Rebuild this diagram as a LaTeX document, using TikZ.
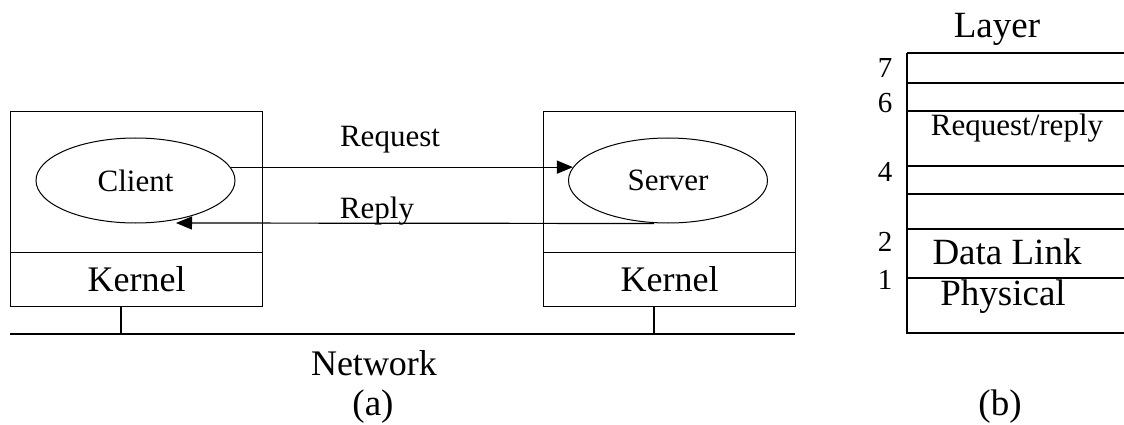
\documentclass[tikz,border=0pt]{standalone}
\usepackage{fontspec}
\setmainfont{Liberation Serif}
\usetikzlibrary{shapes.geometric,arrows.meta}
\newcommand{\fs}[1]{\fontsize{#1}{#1}\selectfont}
\begin{document}
\begin{tikzpicture}[x=1pt,y=-1pt,
  line/.style={line width=1.2pt},
  proc/.style={ellipse,draw,line width=1pt,minimum width=199pt,minimum height=85pt,inner sep=0pt,font=\fs{31}},
  box/.style={draw,line width=1.2pt,minimum width=252pt,inner sep=0pt,anchor=north west},
  lbl/.style={inner sep=0pt},
  tip/.style={-{Triangle[length=16pt,width=13pt]}}]
\useasboundingbox (0,0) rectangle (1124,425);
% (a)
\node[box,minimum height=141pt] (lbox) at (10,111) {};
\node[box,minimum height=54pt,font=\fs{36}] (lkern) at (10,252) {Kernel};
\node[box,minimum height=141pt] (rbox) at (543,111) {};
\node[box,minimum height=54pt,font=\fs{36}] (rkern) at (543,252) {Kernel};
\node[proc] (client) at (135.5,180.5) {Client};
\node[proc] (server) at (668,180.5) {Server};
\draw[line,tip] (client.8) -- (server.172);
\coordinate (replyend) at (176,223);
\draw[line,tip] (server.south) ++(-14,0) coordinate (replystart) (replystart) -- (replyend);
\node[lbl,font=\fs{31}] (req) at (390,140) {Request};
\node[lbl,font=\fs{31}] (rep) at (377,211) {Reply};
\coordinate (netL) at (10,334);
\coordinate (netR) at (795,334);
\draw[line] (netL) -- (netR);
\draw[line] (lkern.south -| 121,0) -- (121,334);
\draw[line] (rkern.south -| 654,0) -- (654,334);
\node[lbl,font=\fs{36}] (net) at (374,363) {Network};
\node[lbl,font=\fs{37}] (a) at (373,407) {(a)};
% (b)
\node[lbl,font=\fs{37}] (layer) at (997,29) {Layer};
\draw[line] (907,53) -- (907,333) -- (1124,333);
\foreach \y in {53,83,111,166,194,229,278} \draw[line] (907,\y) -- (1124,\y);
\node[lbl,font=\fs{31}] (rr) at (1017,128) {Request/reply};
\node[lbl,font=\fs{37}] (dl) at (1007,252) {Data Link};
\node[lbl,font=\fs{37}] (ph) at (1003,297) {Physical};
\node[lbl,font=\fs{29}] (n7) at (885,68) {7};
\node[lbl,font=\fs{29}] (n6) at (885,103) {6};
\node[lbl,font=\fs{29}] (n4) at (885,172) {4};
\node[lbl,font=\fs{29}] (n2) at (885,242) {2};
\node[lbl,font=\fs{29}] (n1) at (885,280) {1};
\node[lbl,font=\fs{37}] (b) at (1000,407) {(b)};
\end{tikzpicture}
\end{document}
